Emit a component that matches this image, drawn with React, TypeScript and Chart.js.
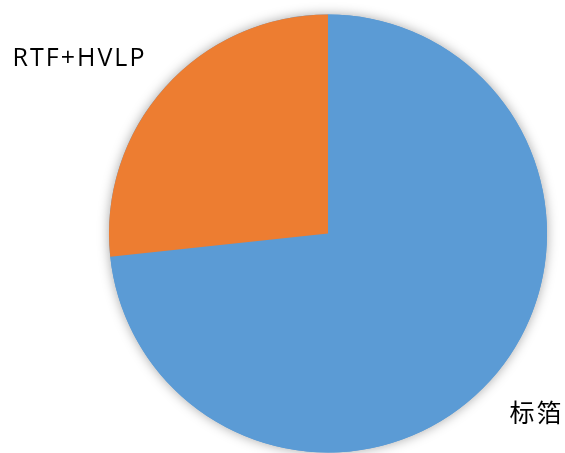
import React, { useEffect, useRef } from "react";
import { Chart, registerables, Plugin } from "chart.js";

Chart.register(...registerables);

// Share of each coating process
const categories = ["标箔", "RTF+HVLP"];
const shares = [73.3, 26.7];
const sliceColors = ["#5B9BD5", "#ED7D31"];

// Label placement: distance along the slice's mid-angle (in radii) and a pixel nudge
const labelRadius = 1.2;
const labelNudge: [number, number][] = [
  [13, 6],
  [-53, 1],
];

const FONT = "'Open Sans', 'Noto Sans CJK SC', sans-serif";

// Soft shadow under the whole pie
const pieShadow: Plugin<"pie"> = {
  id: "pieShadow",
  beforeDatasetsDraw(chart) {
    const arc: any = chart.getDatasetMeta(0).data[0];
    if (!arc) return;
    const { x, y, outerRadius } = arc.getProps(["x", "y", "outerRadius"], true);
    const ctx = chart.ctx;
    ctx.save();
    ctx.shadowColor = "rgba(0,0,0,0.35)";
    ctx.shadowBlur = 12;
    ctx.fillStyle = sliceColors[0];
    ctx.beginPath();
    ctx.arc(x, y, outerRadius, 0, Math.PI * 2);
    ctx.fill();
    ctx.restore();
  },
};

// Category names outside each slice
const outsideLabels: Plugin<"pie"> = {
  id: "outsideLabels",
  afterDatasetsDraw(chart) {
    const ctx: any = chart.ctx;
    const meta = chart.getDatasetMeta(0);
    ctx.save();
    ctx.font = `25px ${FONT}`;
    ctx.letterSpacing = "2px";
    ctx.fillStyle = "#000000";
    ctx.textAlign = "center";
    ctx.textBaseline = "middle";
    meta.data.forEach((el: any, i: number) => {
      const { x, y, startAngle, endAngle, outerRadius } = el.getProps(
        ["x", "y", "startAngle", "endAngle", "outerRadius"],
        true
      );
      const mid = (startAngle + endAngle) / 2;
      const r = outerRadius * labelRadius;
      const lx = x + Math.cos(mid) * r + labelNudge[i][0];
      const ly = y + Math.sin(mid) * r + labelNudge[i][1];
      ctx.fillText(categories[i], lx, ly);
    });
    ctx.restore();
  },
};

export default function App() {
  const canvasRef = useRef<HTMLCanvasElement>(null);

  useEffect(() => {
    if (!canvasRef.current) return;
    const chart = new Chart(canvasRef.current, {
      type: "pie",
      data: {
        labels: categories,
        datasets: [
          {
            data: shares,
            backgroundColor: sliceColors,
            borderWidth: 0,
          },
        ],
      },
      options: {
        responsive: false,
        animation: false,
        layout: {
          padding: { top: 14.5, bottom: 0.5, left: 109, right: 18 },
        },
        plugins: {
          legend: { display: false },
          tooltip: { enabled: false },
        },
      },
      plugins: [pieShadow, outsideLabels],
    });
    return () => chart.destroy();
  }, []);

  return (
    <div
      style={{
        position: "absolute",
        left: 0,
        top: 0,
        width: 565,
        height: 453,
        background: "#ffffff",
      }}
    >
      <canvas ref={canvasRef} width={565} height={453} />
    </div>
  );
}
